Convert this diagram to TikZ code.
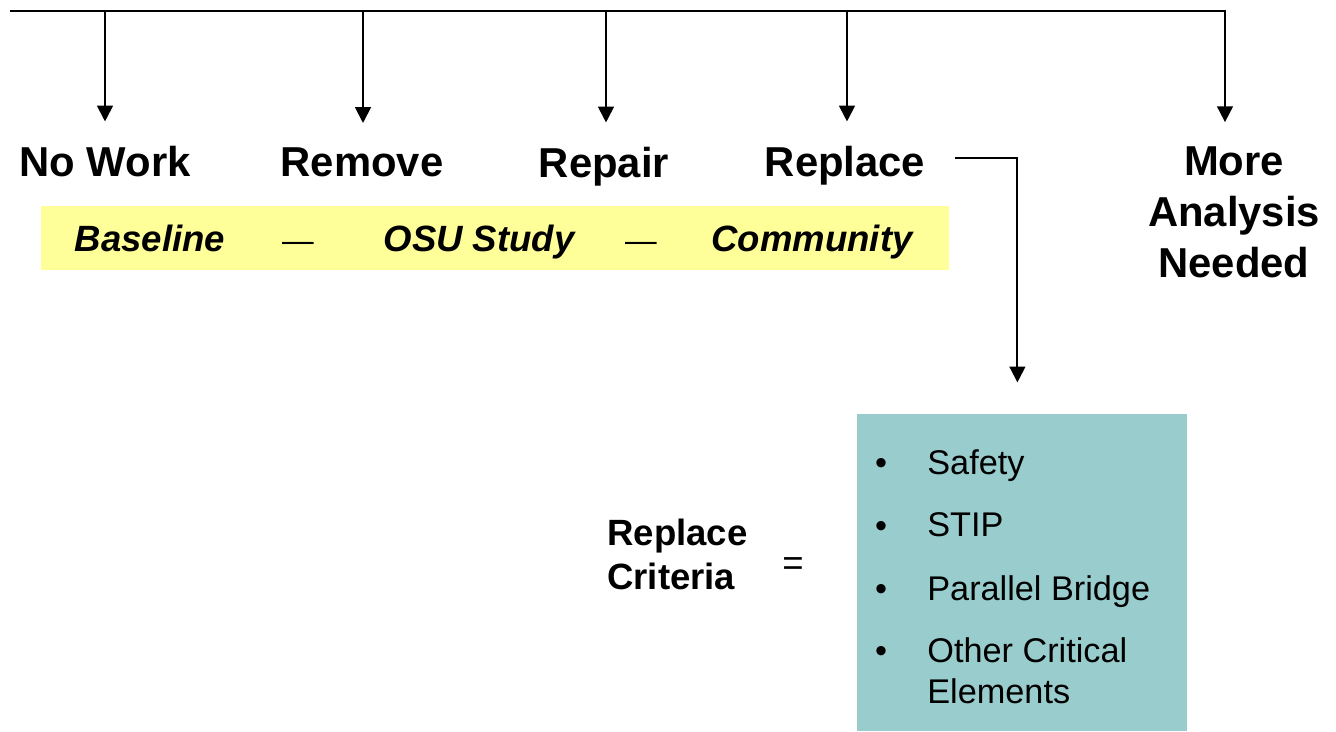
\documentclass[tikz,border=0pt]{standalone}
\usepackage{fontspec}
\setmainfont{Liberation Sans}
\usetikzlibrary{arrows.meta}
\definecolor{studyyellow}{HTML}{FFFF99}
\definecolor{critteal}{HTML}{99CCCC}
\begin{document}
\begin{tikzpicture}[x=0.02cm,y=-0.02cm]
% styles
\tikzset{choice/.style={font=\fontsize{23.8}{29}\selectfont\bfseries, inner sep=0pt, anchor=base},
  study/.style={font=\fontsize{20.8}{25}\selectfont\bfseries\itshape, inner sep=0pt, anchor=base},
  dashsep/.style={font=\fontsize{18}{22}\selectfont, inner sep=0pt, anchor=base},
  item/.style={font=\fontsize{19.5}{23.3}\selectfont, inner sep=0pt, align=left},
  down/.style={line width=1.1pt, -{Triangle[length=9pt,width=9pt]}, shorten >=13.6pt}}
\useasboundingbox (0,0) rectangle (1336,731);
% Draw the bus line
\coordinate (busL) at (10,11);
\coordinate (busR) at (1226,11);
\draw[line width=1.1pt] (busL) -- (busR);
% the choices
\node at (105,176) [choice] (nowork) {No Work};
\node at (362,176) [choice] (remove) {Remove};
\node at (604,177) [choice] (repair) {Repair};
\node at (845,176) [choice] (replace) {Replace};
\node at (1234,146) [choice, anchor=north, align=center] (more) {More\\Analysis\\Needed};
% arrows from the bus
\foreach \n/\x in {nowork/105, remove/363, repair/606, replace/847, more/1225} {
\coordinate (bus-\n) at (\x,11);
\draw[down] (bus-\n) -- (bus-\n |- \n.north);
}
% the study bar
\node at (495,238) [fill=studyyellow, minimum width=18.16cm, minimum height=1.28cm, inner sep=0pt] (bar) {};
\node at (150,251) [study] (baseline) {Baseline};
\node at (298,251) [dashsep] (dashA) {—};
\node at (479,251) [study] (osu) {OSU Study};
\node at (641,251) [dashsep] (dashB) {—};
\node at (812,251) [study] (community) {Community};
% the criteria
\node at (857,414) [fill=critteal, anchor=north west, minimum width=6.6cm, minimum height=6.34cm, inner sep=0pt] (crit) {};
\draw[down, shorten >=18pt] ([xshift=17pt, yshift=4.3pt]replace.east) -| ([xshift=-2.8pt]crit.north);
\foreach \y/\t in {474/Safety, 537/STIP, 600/Parallel Bridge, 662/{Other Critical\\Elements}} {
\node at (881,\y) [item, anchor=base] (bul-\y) {•};
\node at (927,\y-25) [item, anchor=north west] (item-\y) {\t};
}
\node at (607,519) [item, anchor=north west, font=\fontsize{20.8}{25}\selectfont\bfseries] (critlabel) {Replace\\Criteria};
\node at (793,567) [item, font=\fontsize{20.8}{25}\selectfont] (equals) {=};
\end{tikzpicture}
\end{document}
